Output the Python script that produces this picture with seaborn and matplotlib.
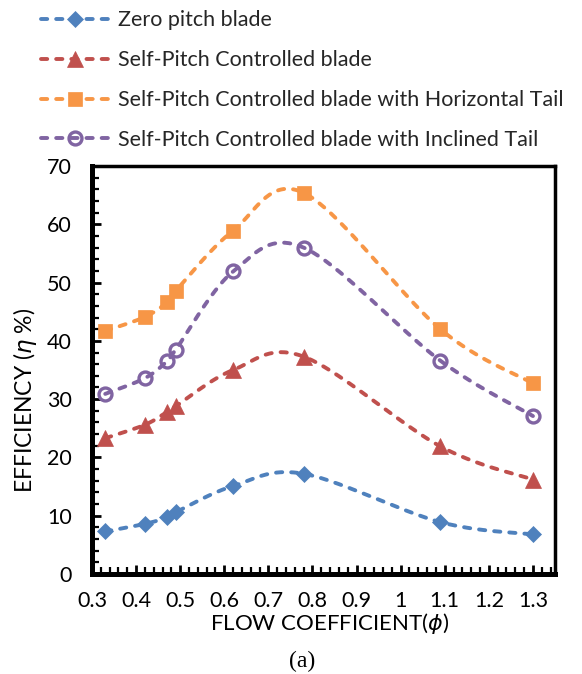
import numpy as np
import matplotlib
matplotlib.use("Agg")
import matplotlib.pyplot as plt
from matplotlib.lines import Line2D
from matplotlib.ticker import MultipleLocator
import seaborn as sns

# Flow coefficient (phi) at each measured operating point
phi = [0.33, 0.42, 0.47, 0.49, 0.62, 0.78, 1.09, 1.30]

# Efficiency (eta %) for each blade configuration
zero_pitch = [7.3, 8.6, 9.7, 10.6, 15.1, 17.2, 8.9, 6.8]
self_pitch = [23.3, 25.6, 27.8, 28.8, 35.0, 37.3, 21.9, 16.2]
horizontal_tail = [41.7, 44.1, 46.6, 48.6, 58.9, 65.4, 42.0, 32.7]
inclined_tail = [30.9, 33.6, 36.5, 38.5, 51.9, 56.0, 36.6, 27.1]

series_names = [
    "Zero pitch blade",
    "Self-Pitch Controlled blade",
    "Self-Pitch Controlled blade with Horizontal Tail",
    "Self-Pitch Controlled blade with Inclined Tail",
]
x_ticks = [0.3, 0.4, 0.5, 0.6, 0.7, 0.8, 0.9, 1.0, 1.1, 1.2, 1.3]
x_tick_labels = ["0.3", "0.4", "0.5", "0.6", "0.7", "0.8", "0.9", "1", "1.1", "1.2", "1.3"]
y_ticks = [0, 10, 20, 30, 40, 50, 60, 70]

colors = ["#4F81BD", "#C0504D", "#F79646", "#8064A2"]
markers = [
    dict(marker="D", markersize=7.8, markerfacecolor=colors[0], markeredgecolor=colors[0], markeredgewidth=0.5),
    dict(marker="^", markersize=11, markerfacecolor=colors[1], markeredgecolor=colors[1], markeredgewidth=0.5),
    dict(marker="s", markersize=10, markerfacecolor=colors[2], markeredgecolor=colors[2], markeredgewidth=0.5),
    dict(marker="o", markersize=9.3, markerfacecolor="none", markeredgecolor=colors[3], markeredgewidth=2.4),
]

LW = 2.8
DASHES = (1.6, 2.3)


def smooth_curve(x, y, steps=40):
    """Cubic Bezier smoothing through every point (spreadsheet-style smoothed line)."""
    p = np.column_stack([x, y]).astype(float)
    n = len(p)
    out = [p[0]]
    for i in range(n - 1):
        p0 = p[i - 1] if i > 0 else p[i]
        p1 = p[i]
        p2 = p[i + 1]
        p3 = p[i + 2] if i + 2 < n else p[i + 1]
        c1 = p1 + (p2 - p0) / 6.0
        c2 = p2 - (p3 - p1) / 6.0
        t = np.linspace(0, 1, steps)[1:, None]
        seg = ((1 - t) ** 3) * p1 + 3 * ((1 - t) ** 2) * t * c1 + 3 * (1 - t) * t ** 2 * c2 + t ** 3 * p2
        out.extend(seg)
    out = np.array(out)
    return out[:, 0], out[:, 1]


sns.set_theme(style="white")
plt.rcParams["font.family"] = ["Lato", "DejaVu Sans"]
plt.rcParams["mathtext.fontset"] = "dejavusans"

W, H = 582, 674
fig = plt.figure(figsize=(W / 100, H / 100), dpi=100)
ax = fig.add_axes([92 / W, 1 - 574 / H, (555 - 92) / W, (574 - 166) / H])

all_series = [zero_pitch, self_pitch, horizontal_tail, inclined_tail]
for k, (vals, name) in enumerate(zip(all_series, series_names)):
    sx, sy = smooth_curve(phi, vals)
    sns.lineplot(x=sx, y=sy, sort=False, estimator=None, ax=ax, color=colors[k],
                 linewidth=LW, zorder=3 + 2 * k)
    line = ax.lines[-1]
    line.set_dashes(DASHES)
    line.set_dash_capstyle("round")
    ax.plot(phi, vals, linestyle="none", zorder=4 + 2 * k, clip_on=False, **markers[k])

ax.set_xlim(0.3, 1.35)
ax.set_ylim(0, 70)
ax.set_xticks(x_ticks)
ax.set_xticklabels(x_tick_labels)
ax.set_yticks(y_ticks)
ax.xaxis.set_minor_locator(MultipleLocator(0.02))
ax.yaxis.set_minor_locator(MultipleLocator(2))
ax.tick_params(axis="both", which="major", direction="in", length=6.5, width=2.0,
               color="black", labelsize=15.5, labelcolor="black")
ax.tick_params(axis="both", which="minor", direction="in", length=5, width=1.6, color="black")
ax.tick_params(axis="y", which="major", pad=14.5)
ax.tick_params(axis="x", which="major", pad=12.5)
ax.tick_params(axis="both", which="both", top=False, right=False, bottom=True, left=True)

for side in ["left", "bottom"]:
    ax.spines[side].set_linewidth(3.6)
    ax.spines[side].set_color("black")
for side in ["top", "right"]:
    ax.spines[side].set_linewidth(2.5)
    ax.spines[side].set_color("black")
    ax.spines[side].set_visible(True)
ax.grid(False)

fig.text(25 / W, 1 - 400 / H, r"EFFICIENCY ($\eta$ %)", rotation=90, ha="center", va="center",
         fontsize=16.5, color="black")
fig.text(330 / W, 1 - 624 / H, r"FLOW COEFFICIENT($\phi$)", ha="center", va="center",
         fontsize=16, color="black")
fig.text(302 / W, 1 - 661 / H, "(a)", ha="center", va="center", fontsize=17,
         family=["Liberation Serif", "DejaVu Serif"], color="black")

handles = []
for k, name in enumerate(series_names):
    h = Line2D([], [], color=colors[k], linewidth=LW, dash_capstyle="round", **markers[k])
    h.set_dashes(DASHES)
    handles.append(h)
fig.legend(handles, series_names, loc="upper left", bbox_to_anchor=(41 / W, 1 - 10.5 / H),
           frameon=False, fontsize=15.5, handlelength=3.2, handletextpad=0.37,
           labelspacing=0.92, borderpad=0, borderaxespad=0, numpoints=1)

fig.savefig("out.png", dpi=100)
